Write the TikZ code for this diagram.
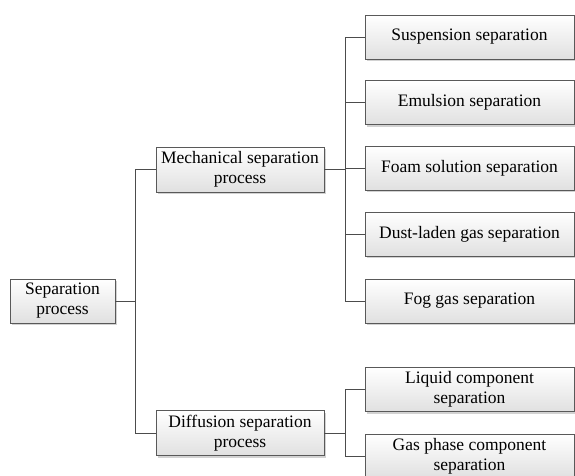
\documentclass[tikz,border=0pt]{standalone}
\usepackage{fontspec}
\setmainfont{Liberation Serif}
\usetikzlibrary{shadows}
\tikzset{
    procbox/.style={draw=black!65, line width=0.9pt, top color=white, bottom color=black!12,
        drop shadow={shadow xshift=2pt, shadow yshift=-2pt, fill=black!25, opacity=0.7},
        align=center, inner sep=0pt, minimum height=44pt,
        font=\fontsize{17.5}{20}\selectfont},
    link/.style={draw=black!70, line width=0.9pt}
}
\begin{document}
\begin{tikzpicture}[x=1pt,y=1pt]
            \useasboundingbox (0, 0) rectangle (575, -475);

            \node[procbox, minimum width=105pt] (s0) at (62.5, -301) {Separation\\process};

            \node[procbox, minimum width=168pt, minimum height=45pt] (m1) at (240, -169.5) {Mechanical separation\\process};
            \node[procbox, minimum width=168pt, minimum height=45pt] (d1) at (240, -433) {Diffusion separation\\process};

            \node[procbox, minimum width=209pt] (m2) at (469.5, -37) {Suspension separation};
            \node[procbox, minimum width=209pt] (m3) at (469.5, -102.5) {Emulsion separation};
            \node[procbox, minimum width=209pt] (m4) at (469.5, -168) {Foam solution separation};
            \node[procbox, minimum width=209pt] (m5) at (469.5, -234) {Dust-laden gas separation};
            \node[procbox, minimum width=209pt] (m6) at (469.5, -301) {Fog gas separation};

            \node[procbox, minimum width=209pt] (d2) at (469.5, -389.5) {Liquid component\\separation};
            \node[procbox, minimum width=209pt] (d3) at (469.5, -456) {Gas phase component\\separation};

            \coordinate (j1) at (135, -301);
            \coordinate (j2) at (345, -169.5);
            \coordinate (j3) at (345, -433);

            \draw[link]
                (s0.east) -- (j1)
                (j1) |- (m1.west)
                (j1) |- (d1.west);

            \draw[link]
                (m1.east) -- (j2)
                (j2) |- (m2.west)
                (j2) |- (m3.west)
                (j2) |- (m4.west)
                (j2) |- (m5.west)
                (j2) |- (m6.west);

            \draw[link]
                (d1.east) -- (j3)
                (j3) |- (d2.west)
                (j3) |- (d3.west);
\end{tikzpicture}
\end{document}
